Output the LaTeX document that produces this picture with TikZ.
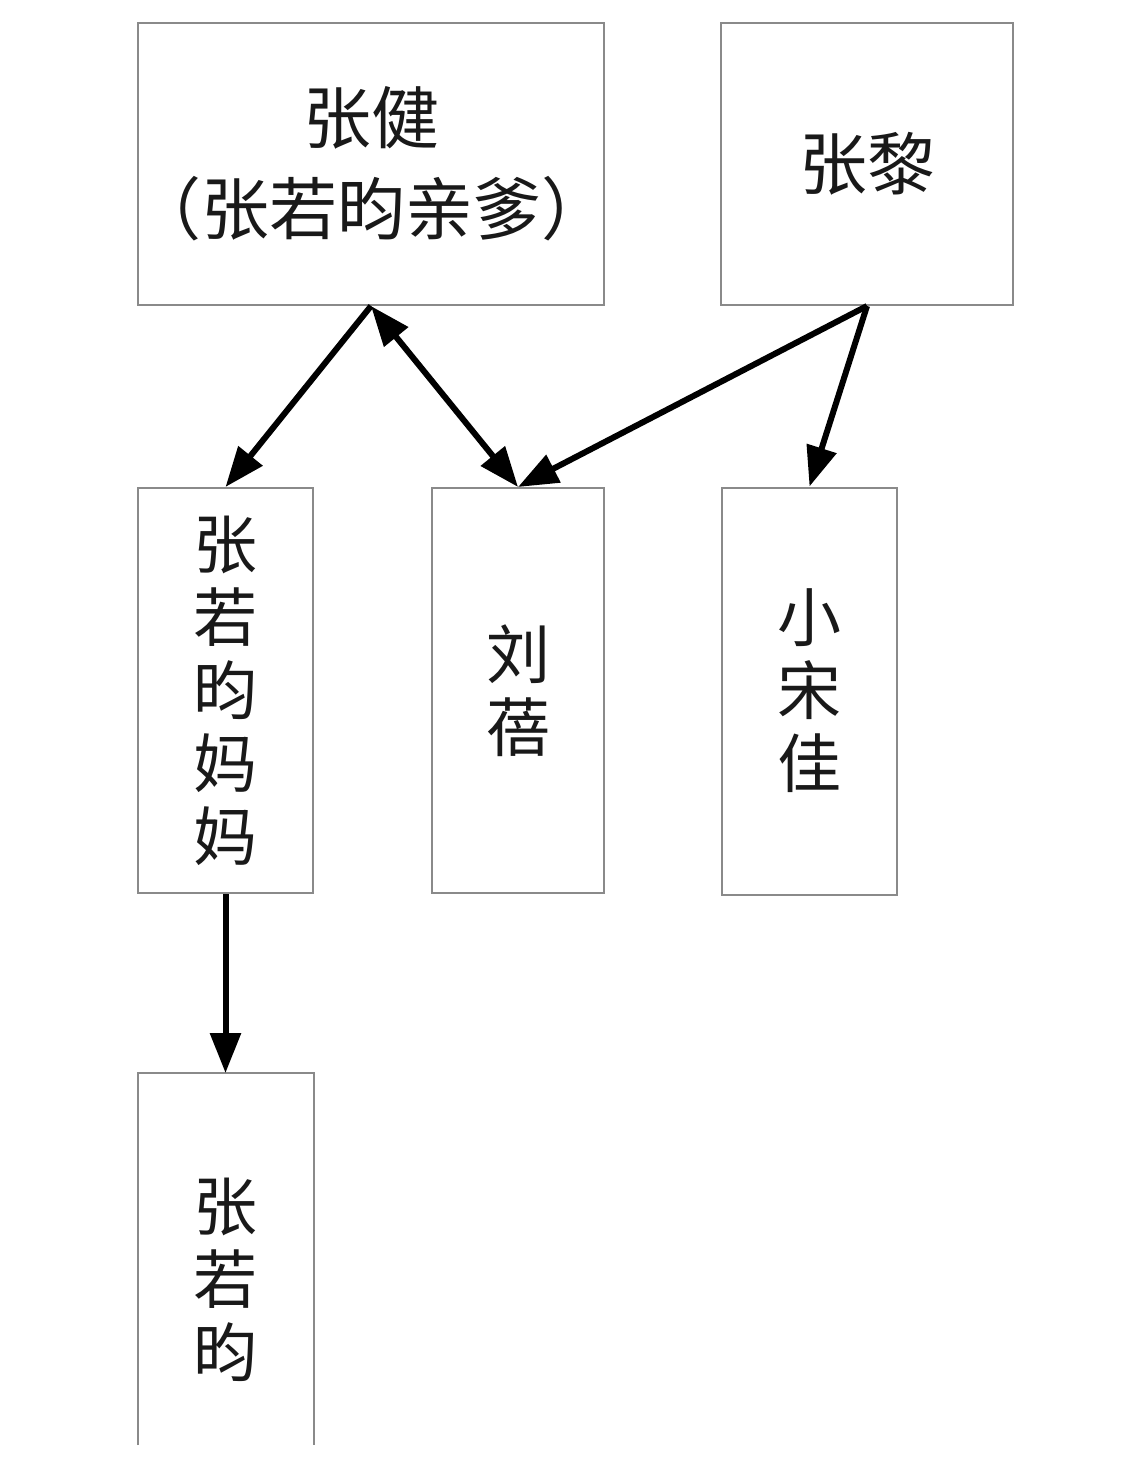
\documentclass[tikz,border=0pt]{standalone}
\usepackage{fontspec}
\newfontfamily\cjk{Noto Sans CJK SC}
\usetikzlibrary{arrows.meta}
\definecolor{boxgray}{HTML}{8A8A8A}
\begin{document}
\begin{tikzpicture}[x=1pt,y=-1pt,
  person/.style={draw=boxgray, line width=2pt, inner sep=0pt, align=center, text=black!90},
  bigtext/.style={font=\cjk\fontsize{68}{91}\selectfont},
  vtext/.style={font=\cjk\fontsize{64}{73}\selectfont},
  conn/.style={line width=6pt, -{Triangle[length=40pt,width=30pt]}},
  conn2/.style={line width=6pt, {Triangle[length=40pt,width=30pt]}-{Triangle[length=40pt,width=30pt]}}
]
\useasboundingbox[fill=white] (0,0) rectangle (1125,1471);

\node[person, bigtext, minimum width=466pt, minimum height=282pt] (A) at (371,164)
  {张健\\\makebox[0pt]{（张若昀亲爹）}};
\node[person, bigtext, minimum width=292pt, minimum height=282pt] (B) at (867,164) {张黎};
\node[person, vtext, minimum width=175pt, minimum height=405pt] (C) at (225.5,690.5)
  {张\\若\\昀\\妈\\妈};
\node[person, vtext, minimum width=172pt, minimum height=405pt] (D) at (518,690.5)
  {刘\\蓓};
\node[person, vtext, minimum width=175pt, minimum height=407pt] (E) at (809.5,691)
  {小\\宋\\佳};
\node[person, vtext, draw=none, minimum width=174pt, minimum height=412pt] (F) at (225.5,1280)
  {张\\若\\昀};
\coordinate (Fbot) at (0,1445);
\draw[boxgray, line width=2pt] (F.north west |- Fbot) -- (F.north west) -- (F.north east) -- (F.north east |- Fbot);

\draw[conn] (A.south) -- (C.north);
\draw[conn2] (A.south) -- (D.north);
\draw[conn] (B.south) -- (D.north);
\draw[conn] (B.south) -- (E.north);
\draw[conn] (C.south) -- (F.north);
\end{tikzpicture}
\end{document}
